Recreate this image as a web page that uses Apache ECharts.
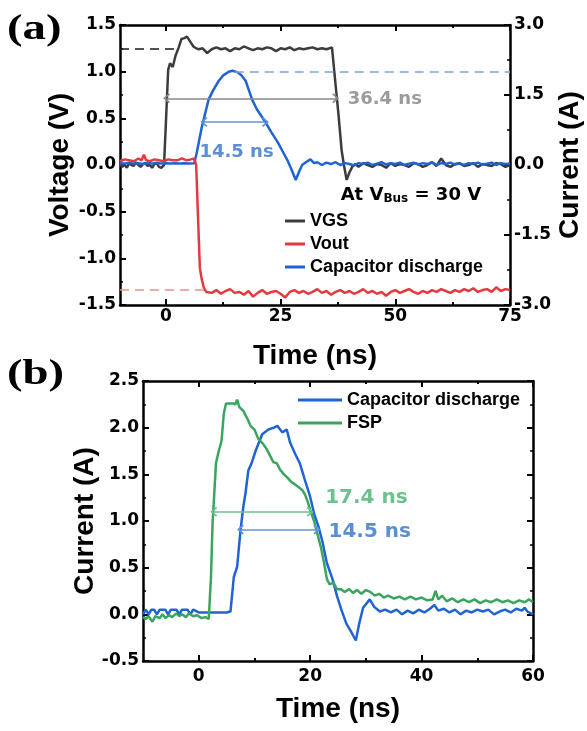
<!DOCTYPE html>
<html>
<head>
<meta charset="utf-8">
<script src="https://cdn.jsdelivr.net/npm/echarts@6/dist/echarts.min.js"></script>
<style>
html, body { margin: 0; padding: 0; background: #fff; }
#chart { width: 587px; height: 731px; }
</style>
</head>
<body>
<div id="chart"></div>
<script>
// panel (a): [time ns, value] - VGS and Vout in V, capacitor discharge in A
const vgsA = [
  [-10, 0.01], [-9.5, -0.02], [-9, 0.00], [-8.5, -0.03], [-8, 0.02], [-7.5, 0.00], [-7, -0.01], [-6.5, 0.03],
  [-6, 0.00], [-5.5, -0.02], [-5, 0.01], [-4.5, 0.02], [-4, -0.01], [-3.5, 0.00], [-3, -0.03], [-2.5, 0.01],
  [-2, 0.02], [-1.5, -0.02], [-1, -0.03], [-0.4, 0.00],
  [0, 0.45], [0.5, 1.02], [0.9, 1.09], [1.5, 1.05], [2.1, 1.17], [2.8, 1.26], [3.4, 1.35], [4, 1.36],
  [4.6, 1.375], [5.2, 1.33], [6, 1.27], [6.6, 1.25], [7.2, 1.24],
  [8, 1.25], [9, 1.20], [10, 1.24], [11, 1.26], [12, 1.24], [13, 1.25], [14, 1.22], [15, 1.25], [16, 1.24],
  [17, 1.27], [18, 1.25], [19, 1.23], [20, 1.25], [21, 1.24], [22, 1.26], [23, 1.25], [24, 1.22], [25, 1.25],
  [26, 1.24], [27, 1.26], [28, 1.23], [29, 1.25], [30, 1.24], [31, 1.25], [32, 1.26], [33, 1.24], [34, 1.25],
  [35, 1.24], [36.2, 1.26],
  [37, 0.85], [37.6, 0.55], [38.3, 0.16], [38.8, 0.0], [39.4, -0.16], [40, -0.08], [40.6, -0.02], [41.2, 0.01],
  [42, -0.02], [43, 0.02], [44, 0.00], [45, -0.02], [46, 0.01], [47, 0.00], [48, -0.03], [49, 0.02], [50, -0.01],
  [51, 0.01], [52, 0.00], [53, -0.02], [54, 0.02], [55, 0.01], [56, -0.02], [57, 0.00], [58, 0.03], [59, -0.01],
  [60, 0.07], [61, 0.00], [62, -0.02], [63, 0.01], [64, 0.02], [65, -0.01], [66, 0.00], [67, 0.02], [68, -0.02],
  [69, 0.01], [70, 0.00], [71, -0.01], [72, 0.02], [73, 0.01], [74, -0.02], [75, 0.00]
];
const voutA = [
  [-10, 0.04], [-9, 0.06], [-8, 0.05], [-7, 0.04], [-6, 0.07], [-5.3, 0.05], [-4.8, 0.11], [-4.3, 0.05],
  [-3.5, 0.04], [-2.5, 0.06], [-1.5, 0.05], [-0.5, 0.04], [0.5, 0.06], [1.5, 0.05], [2.5, 0.05], [3.5, 0.07],
  [4.5, 0.05], [5.5, 0.06], [6.2, 0.07], [6.6, 0.0], [7.0, -0.55], [7.4, -1.1], [7.8, -1.22], [8.3, -1.32],
  [8.8, -1.36], [10, -1.37], [11, -1.34], [12, -1.38], [13, -1.35], [14, -1.33], [15, -1.37], [16, -1.36],
  [17, -1.39], [18, -1.35], [19, -1.41], [20, -1.37], [21, -1.34], [22, -1.38], [23, -1.36], [24, -1.35],
  [25, -1.38], [26, -1.42], [27, -1.36], [28, -1.34], [29, -1.37], [30, -1.35], [31, -1.38], [32, -1.36],
  [33, -1.33], [34, -1.37], [35, -1.35], [36, -1.39], [37, -1.36], [38, -1.34], [39, -1.37], [40, -1.35],
  [41, -1.38], [42, -1.36], [43, -1.33], [44, -1.37], [45, -1.35], [46, -1.38], [47, -1.36], [48, -1.40],
  [49, -1.36], [50, -1.34], [51, -1.37], [52, -1.35], [53, -1.33], [54, -1.36], [55, -1.38], [56, -1.35],
  [57, -1.37], [58, -1.34], [59, -1.36], [60, -1.33], [61, -1.35], [62, -1.37], [63, -1.34], [64, -1.36],
  [65, -1.33], [66, -1.35], [67, -1.32], [68, -1.36], [69, -1.34], [70, -1.33], [71, -1.36], [72, -1.31],
  [73, -1.35], [74, -1.33], [75, -1.34]
];
const capA = [
  [-10, 0.04], [-9, 0.03], [-8, 0.05], [-7, 0.03], [-6, 0.04], [-5, 0.02], [-4, 0.04], [-3, 0.03], [-2, 0.05],
  [-1, 0.03], [0, 0.04], [1, 0.03], [2, 0.04], [3, 0.03], [4, 0.04], [5, 0.03], [6.2, 0.04], [6.7, 0.25],
  [7.2, 0.5], [7.8, 0.8], [8.3, 1.0], [8.8, 1.2], [9.3, 1.4], [10.3, 1.6], [11.5, 1.8], [12.5, 1.92], [13.7, 2.0],
  [14.5, 2.02], [15.6, 1.99], [16.5, 1.92], [17.4, 1.8], [18.1, 1.6], [18.8, 1.4], [19.8, 1.2], [20.8, 1.05],
  [21.7, 0.92], [23, 0.7], [24.3, 0.5], [25.4, 0.3], [26.5, 0.1], [27.4, -0.1], [28.3, -0.32], [29, -0.15],
  [29.7, 0.0], [30.5, 0.06], [31.5, 0.12], [32.3, 0.04], [33, 0.06], [34, 0.0], [35, 0.05], [36, 0.02],
  [37, 0.06], [38, 0.0], [39, 0.04], [40, 0.02], [41, -0.01], [42, 0.04], [43, 0.02], [44, 0.05], [45, 0.0],
  [46, 0.03], [47, 0.06], [48, 0.01], [49, 0.04], [50, 0.02], [51, 0.05], [52, 0.0], [53, 0.03], [54, 0.05],
  [55, 0.01], [56, 0.04], [57, 0.02], [58, 0.06], [59, 0.0], [60, 0.04], [61, 0.02], [62, 0.05], [63, 0.01],
  [64, 0.03], [65, 0.0], [66, 0.04], [67, 0.02], [68, 0.05], [69, 0.01], [70, 0.03], [71, 0.05], [72, 0.0],
  [73, 0.04], [74, 0.02], [75, 0.03]
];

// panel (b): [time ns, current A]
const capB = [
  [-10, 0.0], [-9.5, 0.05], [-9, 0.0], [-8.5, 0.05], [-8, 0.05], [-7.5, 0.0], [-7, 0.05], [-6, 0.05],
  [-5.5, 0.0], [-5, 0.05], [-4, 0.05], [-3.5, 0.0], [-3, 0.05], [-2, 0.05], [-1.5, 0.0], [-1, 0.05],
  [0, 0.02], [1, 0.02], [2, 0.02], [3, 0.02], [4, 0.02], [5, 0.02], [5.7, 0.03], [6.3, 0.4], [6.9, 0.51],
  [7.5, 0.9], [8.0, 1.15], [8.4, 1.3], [8.9, 1.54], [9.5, 1.62], [10.2, 1.75], [11.4, 1.93], [12.5, 1.98],
  [13.5, 2.0], [14.1, 2.02], [15, 1.95], [15.8, 1.98], [16.4, 1.84], [17.3, 1.72], [18.2, 1.61], [19, 1.45],
  [20, 1.26], [20.7, 1.08], [21.5, 0.94], [22.2, 0.78], [23, 0.55], [24, 0.38], [24.8, 0.2], [25.6, 0.05],
  [26.5, -0.1], [27.3, -0.18], [28.2, -0.28], [28.8, -0.1], [29.5, 0.07], [30.7, 0.16], [31.5, 0.08],
  [32.5, 0.03], [33.5, 0.05], [34.5, 0.02], [35.5, 0.05], [36.5, 0.0], [37.5, 0.04], [38.5, 0.01], [39.5, 0.05],
  [40.5, 0.02], [41.5, 0.06], [42.3, 0.1], [43, 0.04], [44, 0.06], [45, 0.02], [46, 0.05], [47, 0.0], [48, 0.04],
  [49, 0.02], [50, 0.05], [51, 0.03], [52, 0.05], [53, 0.0], [54, 0.03], [55, 0.05], [56, 0.02], [57, 0.06],
  [58, 0.04], [58.5, 0.07], [59, 0.03], [60, 0.0]
];
const fspB = [
  [-10, -0.03], [-9.5, -0.05], [-9, -0.02], [-8.3, -0.08], [-7.8, -0.02], [-7, -0.04], [-6.5, 0.0], [-6, -0.04],
  [-5.3, -0.01], [-4.8, -0.03], [-4, 0.01], [-3.5, -0.02], [-3, 0.0], [-2.3, -0.03], [-1.8, 0.01], [-1, -0.02],
  [-0.3, -0.01], [0.5, -0.04], [1.2, -0.03], [1.8, -0.05], [2.2, 0.4], [2.5, 1.0], [2.8, 1.3], [3.1, 1.62],
  [3.6, 1.75], [4.1, 1.86], [4.5, 2.15], [4.9, 2.26], [5.5, 2.26], [6.2, 2.26], [6.6, 2.25], [6.9, 2.3],
  [7.3, 2.22], [8.0, 2.18], [8.7, 2.1], [9.3, 2.02], [10, 1.98], [10.7, 1.88], [11.5, 1.83], [12.2, 1.77],
  [12.8, 1.7], [13.4, 1.63], [14, 1.62], [14.6, 1.55], [15.3, 1.5], [16, 1.46], [16.6, 1.42], [17.3, 1.39],
  [18, 1.36], [18.6, 1.33], [19.1, 1.28], [19.6, 1.2], [20, 1.12], [20.7, 1.0], [21.4, 0.84], [22, 0.7],
  [22.5, 0.55], [23, 0.38], [23.5, 0.32], [24.2, 0.34], [24.8, 0.27], [25.5, 0.27], [26.2, 0.24], [27, 0.27],
  [27.7, 0.23], [28.4, 0.26], [29.2, 0.22], [30, 0.26], [30.8, 0.24], [31.6, 0.2], [32.4, 0.22], [33.2, 0.18],
  [34, 0.2], [35, 0.17], [36, 0.19], [37, 0.16], [38, 0.19], [39, 0.16], [40, 0.18], [41, 0.15], [42, 0.16],
  [42.5, 0.25], [43, 0.16], [43.7, 0.2], [44.5, 0.14], [45.5, 0.17], [46.5, 0.13], [47.5, 0.16], [48.5, 0.13],
  [49.5, 0.16], [50.5, 0.12], [51.5, 0.15], [52.5, 0.13], [53.5, 0.16], [54.5, 0.13], [55.5, 0.15], [56.5, 0.12],
  [57.5, 0.15], [58.5, 0.13], [59.3, 0.16], [60, 0.13]
];

const ticksA = [0, 25, 50, 75];
const minorTicksA = [12.5, 37.5, 62.5];
const ticksB = [0, 20, 40, 60];
const minorTicksB = [10, 30, 50];

const SANS = '"Liberation Sans", Arial, sans-serif';
const TICKFONT = '"DejaVu Sans", sans-serif';
const CHEVRON = 'path://M10,0L20,9L17.5,11L10,4L2.5,11L0,9Z';

const titleStyle = { fontSize: 28, fontWeight: 'bold', color: '#000', fontFamily: SANS };
const tickLabel = { color: '#000', fontSize: 17, fontWeight: 'bold', fontFamily: TICKFONT };
const frameLine = { show: true, onZero: false, lineStyle: { color: '#000', width: 2.5 } };
const noLine = { show: false, onZero: false };

function xFrame(gridIndex, min, max, major, minor, nameGap, margin) {
  const tick = (vals, len) => ({ show: true, inside: true, length: len, customValues: vals,
    lineStyle: { color: '#000', width: 2 } });
  const base = { type: 'value', gridIndex, min, max, splitLine: { show: false } };
  return [
    Object.assign({}, base, { position: 'bottom', axisLine: frameLine, axisTick: tick(major, 6),
      axisLabel: Object.assign({ customValues: major, margin }, tickLabel),
      name: 'Time (ns)', nameLocation: 'middle', nameGap, nameMoveOverlap: false, nameTextStyle: titleStyle }),
    Object.assign({}, base, { position: 'bottom', axisLine: noLine, axisTick: tick(minor, 3), axisLabel: { show: false } }),
    Object.assign({}, base, { position: 'top', axisLine: frameLine, axisTick: tick(major, 6), axisLabel: { show: false } }),
    Object.assign({}, base, { position: 'top', axisLine: noLine, axisTick: tick(minor, 3), axisLabel: { show: false } })
  ];
}

function yFrame(gridIndex, position, min, max, interval, showLabel, name, nameGap) {
  return {
    type: 'value', gridIndex, position, min, max, interval,
    axisLine: frameLine,
    axisTick: { show: true, inside: true, length: 6, lineStyle: { color: '#000', width: 2 } },
    minorTick: { show: true, splitNumber: 2, length: 3, lineStyle: { color: '#000', width: 1.5 } },
    axisLabel: Object.assign({ show: showLabel, margin: 4, formatter: v => v.toFixed(1) }, tickLabel),
    splitLine: { show: false },
    name, nameLocation: 'middle', nameGap, nameRotate: 90, nameMoveOverlap: false, nameTextStyle: titleStyle
  };
}

function dashed(from, to, color) {
  return [{ coord: from, lineStyle: { color, width: 1.6, type: [9, 6] } }, { coord: to }];
}
function arrow(from, to, color) {
  return [{ coord: from, symbol: CHEVRON, symbolSize: [10, 7], lineStyle: { color, width: 1.5, type: 'solid' } },
          { coord: to, symbol: CHEVRON, symbolSize: [10, 7] }];
}
function note(coord, text, color, size) {
  return { coord, label: { show: true, position: 'inside', formatter: text, color,
    fontSize: size, fontWeight: 'bold', fontFamily: TICKFONT } };
}
function markers(lines, notes) {
  return {
    markLine: { silent: true, animation: false, symbol: 'none', label: { show: false }, data: lines },
    markPoint: { silent: true, animation: false, symbol: 'circle', symbolSize: 0, data: notes || [] }
  };
}
function lineSeries(name, data, color, xi, yi, extra) {
  return Object.assign({
    type: 'line', name, data, xAxisIndex: xi, yAxisIndex: yi, showSymbol: false, animation: false,
    lineStyle: { color, width: 2.5 }, itemStyle: { color }
  }, extra || {});
}

const vbusNote = {
  coord: [53.4, -0.32],
  label: {
    show: true, position: 'inside', formatter: '{n|At V}{s|Bus}{n| = 30 V}',
    rich: {
      n: { fontSize: 18, fontWeight: 'bold', color: '#000', fontFamily: TICKFONT },
      s: { fontSize: 12, fontWeight: 'bold', color: '#000', fontFamily: TICKFONT, padding: [9, 0, 0, 0] }
    }
  }
};

const legendText = { fontSize: 18, fontWeight: 'bold', color: '#000', fontFamily: SANS };

const option = {
  backgroundColor: '#fff',
  animation: false,
  grid: [
    { left: 120, right: 77, top: 25, bottom: 426, outerBoundsMode: 'none' },
    { left: 143, right: 54, top: 381, bottom: 70, outerBoundsMode: 'none' }
  ],
  xAxis: [].concat(
    xFrame(0, -10, 75, ticksA, minorTicksA, 37, 3),
    xFrame(1, -10, 60, ticksB, minorTicksB, 34, 7)
  ),
  yAxis: [
    yFrame(0, 'left', -1.5, 1.5, 0.5, true, 'Voltage (V)', 46),
    yFrame(0, 'right', -3, 3, 1.5, true, 'Current (A)', 46),
    yFrame(1, 'left', -0.5, 2.5, 0.5, true, 'Current (A)', 44),
    yFrame(1, 'right', -0.5, 2.5, 0.5, false, '', 10)
  ],
  legend: [
    { data: ['VGS', 'Vout', 'Capacitor discharge'], orient: 'vertical', left: 285, top: 212, padding: 0,
      itemWidth: 20, itemHeight: 3, itemGap: 5, icon: 'rect', selectedMode: false, textStyle: legendText },
    { data: ['Capacitor discharge', 'FSP'], orient: 'vertical', left: 298, top: 391, padding: 0,
      itemWidth: 44, itemHeight: 3, itemGap: 5, icon: 'rect', selectedMode: false, textStyle: legendText }
  ],
  graphic: [
    { type: 'text', x: 7, y: 30, scaleX: 1.3, style: { text: '(a)', fill: '#000',
      font: 'bold 36px "Liberation Serif", serif', verticalAlign: 'middle' } },
    { type: 'text', x: 7, y: 375, scaleX: 1.3, style: { text: '(b)', fill: '#000',
      font: 'bold 36px "Liberation Serif", serif', verticalAlign: 'middle' } }
  ],
  series: [
    lineSeries('VGS', vgsA, '#3c3c3c', 0, 0, markers(
      [dashed([-10, 1.25], [3, 1.25], '#1a1a1a'), arrow([0.15, 0.715], [37, 0.715], '#8a8a8a')],
      [note([47.7, 0.70], '36.4 ns', '#9b9b9b', 18), vbusNote])),
    lineSeries('Capacitor discharge', capA, '#1f64d2', 0, 1, markers(
      [dashed([15, 2.0], [75, 2.0], '#7aa6dc'), arrow([8.3, 0.92], [21.7, 0.92], '#5f95d8')],
      [note([15.4, 0.28], '14.5 ns', '#5b8fd5', 18)])),
    lineSeries('Vout', voutA, '#e6393e', 0, 0, markers(
      [dashed([-10, -1.34], [8.5, -1.34], '#ea8e8e')])),
    lineSeries('Capacitor discharge', capB, '#1f64d2', 4, 2, markers(
      [arrow([7.5, 0.91], [21.2, 0.91], '#5f95d8')],
      [note([30.7, 0.885], '14.5 ns', '#5b8fd5', 20)])),
    lineSeries('FSP', fspB, '#3aa55e', 4, 2, markers(
      [arrow([2.7, 1.10], [20, 1.10], '#6cc28c')],
      [note([30.1, 1.245], '17.4 ns', '#6cc28c', 20)]))
  ]
};

const chart = echarts.init(document.getElementById('chart'));
chart.setOption(option);
</script>
</body>
</html>
